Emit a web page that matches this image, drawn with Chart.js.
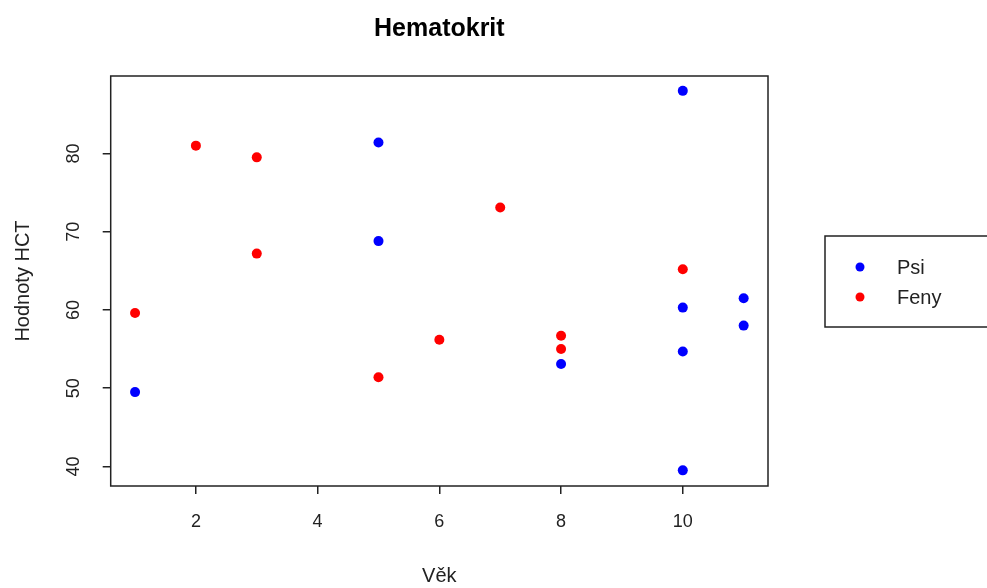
<!DOCTYPE html>
<html>
<head>
<meta charset="utf-8">
<script src="https://cdn.jsdelivr.net/npm/chart.js@4"></script>
<style>
  html, body { margin: 0; padding: 0; background: #fff; }
  canvas { display: block; }
</style>
</head>
<body>
<canvas id="hctCanvas" width="987" height="588"></canvas>
<script>
// data
const psiAge = [1, 5, 5, 8, 10, 10, 10, 10, 11, 11];
const psiHct = [49.5, 81.4, 68.8, 53.1, 88.0, 60.3, 54.7, 39.5, 61.5, 58.0];
const fenyAge = [1, 2, 3, 3, 5, 6, 7, 8, 8, 10];
const fenyHct = [59.6, 81.0, 79.5, 67.2, 51.4, 56.2, 73.1, 56.7, 55.0, 65.2];
const xTicks = [2, 4, 6, 8, 10];
const yTicks = [40, 50, 60, 70, 80];

const toPoints = (xs, ys) => xs.map((x, i) => ({ x: x, y: ys[i] }));

const FONT = 'Liberation Sans, Arial, sans-serif';

// ramecek kolem grafu (jako v R)
const boxPlugin = {
  id: 'box',
  afterDraw(chart) {
    const { ctx, chartArea: a } = chart;
    ctx.save();
    ctx.strokeStyle = '#222';
    ctx.lineWidth = 1.5;
    ctx.strokeRect(a.left, a.top, a.right - a.left, a.bottom - a.top);
    ctx.restore();
  }
};

// legenda vpravo
const legendPlugin = {
  id: 'rLegend',
  afterDraw(chart) {
    const ctx = chart.ctx;
    ctx.save();
    ctx.strokeStyle = '#222';
    ctx.lineWidth = 1.5;
    ctx.strokeRect(825, 236, 200, 91);
    ctx.font = '20px ' + FONT;
    ctx.textBaseline = 'middle';
    ctx.textAlign = 'left';
    chart.data.datasets.forEach((ds, i) => {
      const y = 267 + i * 30;
      ctx.fillStyle = ds.backgroundColor;
      ctx.beginPath();
      ctx.arc(860, y, 4.5, 0, Math.PI * 2);
      ctx.fill();
      ctx.fillStyle = '#222';
      ctx.fillText(ds.label, 897, y + 1);
    });
    ctx.restore();
  }
};

new Chart(document.getElementById('hctCanvas'), {
  type: 'scatter',
  data: {
    datasets: [
      {
        label: 'Psi',
        data: toPoints(psiAge, psiHct),
        backgroundColor: '#0000ff',
        borderColor: '#0000ff',
        pointRadius: 5,
        borderWidth: 0
      },
      {
        label: 'Feny',
        data: toPoints(fenyAge, fenyHct),
        backgroundColor: '#ff0000',
        borderColor: '#ff0000',
        pointRadius: 5,
        borderWidth: 0
      }
    ]
  },
  options: {
    responsive: false,
    animation: false,
    devicePixelRatio: 1,
    layout: { padding: { left: 0, right: 219, top: 0, bottom: 0 } },
    plugins: {
      legend: { display: false },
      tooltip: { enabled: false },
      title: {
        display: true,
        text: 'Hematokrit',
        fullSize: false,
        color: '#000',
        font: { family: FONT, size: 25, weight: 'bold' },
        padding: { top: 14, bottom: 32 }
      }
    },
    scales: {
      x: {
        type: 'linear',
        min: 0.6,
        max: 11.4,
        afterFit(scale) { scale.height = 102; },
        afterBuildTicks(scale) { scale.ticks = xTicks.map(v => ({ value: v })); },
        grid: { display: true, drawOnChartArea: false, drawTicks: true, tickLength: 8, color: '#222', lineWidth: 1.5 },
        border: { display: false },
        ticks: { includeBounds: false, color: '#222', padding: 17, font: { family: FONT, size: 18 } },
        title: { display: true, text: 'Věk', color: '#222', font: { family: FONT, size: 20 }, padding: { top: 0, bottom: 0 } }
      },
      y: {
        type: 'linear',
        min: 37.5,
        max: 89.9,
        afterFit(scale) { scale.width = 110.7; },
        afterBuildTicks(scale) { scale.ticks = yTicks.map(v => ({ value: v })); },
        grid: { display: true, drawOnChartArea: false, drawTicks: true, tickLength: 8, color: '#222', lineWidth: 1.5 },
        border: { display: false },
        ticks: {
          includeBounds: false,
          color: '#222',
          minRotation: 90,
          maxRotation: 90,
          crossAlign: 'center',
          padding: 19,
          font: { family: FONT, size: 18 }
        },
        title: { display: true, text: 'Hodnoty HCT', color: '#222', font: { family: FONT, size: 20 }, padding: { top: 11, bottom: 0 } }
      }
    }
  },
  plugins: [boxPlugin, legendPlugin]
});
</script>
</body>
</html>
